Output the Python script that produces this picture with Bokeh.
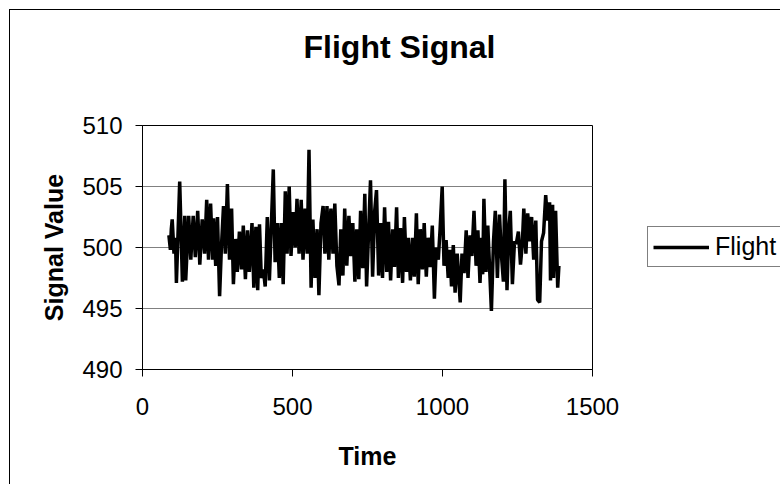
from bokeh.plotting import figure
from bokeh.models import Range1d, FixedTicker, Title, Legend, LegendItem, LinearAxis
from bokeh.embed import file_html
from bokeh.resources import INLINE

times = [88, 93, 96, 99, 105, 110, 113, 116, 124, 133, 141, 144, 154, 161, 169, 176, 184, 191, 199, 207,
         214, 220, 227, 234, 237, 244, 250, 257, 263, 270, 276, 283, 290, 297, 303, 310, 316, 323, 330, 336,
         343, 350, 356, 365, 371, 378, 384, 390, 396, 403, 409, 416, 423, 429, 436, 442, 449, 456, 462, 469,
         476, 482, 489, 495, 502, 509, 515, 522, 529, 535, 542, 549, 555, 562, 568, 575, 582, 588, 595, 602,
         608, 615, 621, 628, 635, 641, 648, 655, 661, 668, 674, 681, 688, 694, 701, 708, 714, 721, 727, 734,
         741, 747, 754, 760, 767, 774, 780, 787, 794, 800, 807, 814, 820, 827, 834, 840, 847, 853, 860, 867,
         873, 880, 886, 893, 900, 906, 913, 919, 926, 933, 939, 946, 952, 959, 966, 973, 979, 986, 992, 999,
         1005, 1012, 1019, 1025, 1030, 1036, 1042, 1049, 1059, 1065, 1072, 1079, 1085, 1092, 1098, 1105, 1112,
         1118, 1125, 1131, 1134, 1138, 1145, 1151, 1163, 1170, 1176, 1183, 1190, 1196, 1203, 1208, 1215, 1221,
         1226, 1233, 1240, 1246, 1253, 1260, 1266, 1271, 1278, 1284, 1291, 1297, 1304, 1311, 1317, 1324, 1330,
         1337, 1344, 1350, 1357, 1360, 1367, 1370, 1377, 1384, 1388]
flight = [501.0, 499.8, 501.5, 502.3, 499.5, 500.8, 497.1, 499.3, 505.4, 497.2, 502.6, 497.3, 502.6, 499.0,
          502.6, 499.2, 503.0, 498.6, 502.3, 499.5, 503.9, 499.0, 503.6, 499.0, 502.4, 498.5, 502.5, 496.0,
          500.0, 503.4, 499.5, 505.2, 499.0, 503.2, 497.0, 500.7, 498.0, 501.3, 498.2, 501.8, 497.4, 501.4,
          498.0, 502.0, 496.7, 501.7, 496.5, 501.9, 497.5, 498.2, 496.8, 502.5, 497.3, 501.5, 506.4, 498.8,
          502.0, 497.5, 502.0, 497.0, 504.6, 499.5, 505.0, 499.3, 502.9, 500.0, 504.0, 499.5, 503.9, 499.0,
          503.2, 499.5, 508.0, 496.7, 502.3, 497.5, 501.5, 496.1, 502.0, 503.4, 499.5, 503.4, 499.0, 503.2,
          499.5, 503.6, 498.5, 496.9, 501.5, 497.7, 503.2, 498.5, 502.6, 499.3, 502.0, 497.2, 501.5, 497.4,
          503.0, 498.3, 504.4, 496.8, 501.5, 505.5, 497.6, 503.0, 504.7, 497.7, 502.0, 497.5, 503.3, 498.0,
          502.1, 497.3, 501.5, 498.4, 503.3, 497.5, 501.6, 497.1, 502.5, 498.0, 500.8, 497.3, 500.8, 497.6,
          502.8, 497.0, 501.5, 498.2, 502.0, 497.6, 500.8, 498.4, 501.8, 495.8, 500.0, 499.0, 501.5, 505.0,
          498.5, 500.6, 497.5, 499.8, 496.8, 500.2, 496.3, 499.5, 495.5, 499.5, 497.9, 501.4, 497.5, 501.0,
          499.3, 503.0, 498.5, 501.4, 497.1, 500.8, 497.8, 504.0, 498.0, 501.8, 494.8, 500.5, 503.0, 497.5,
          502.7, 499.5, 497.2, 505.6, 496.5, 501.5, 503.0, 497.0, 500.5, 500.3, 501.3, 498.6, 500.3, 503.2,
          499.5, 502.8, 500.5, 502.5, 499.0, 502.2, 495.7, 495.5, 500.5, 501.2, 504.3, 502.2, 503.7, 497.3,
          503.5, 497.5, 503.0, 496.7, 498.5]

x_ticks = [0, 500, 1000, 1500]
y_ticks = [490, 495, 500, 505, 510]
title_text = "Flight Signal"
x_label = "Time"
y_label = "Signal Value"
series_name = "Flight"

FONT = "Liberation Sans"

p = figure(title=None, frame_width=450, frame_height=244, output_backend="svg", toolbar_location=None,
           x_range=Range1d(0, 1500), y_range=Range1d(490, 510),
           min_border_left=132, min_border_right=188, min_border_top=115, min_border_bottom=115)
p.margin = (9, 0, 0, 9)
p.styles = {"border-left": "1px solid #000", "border-top": "1px solid #000"}

r = p.line(times, flight, line_color="black", line_width=3.5)

p.outline_line_color = "black"
p.outline_line_width = 1
p.xgrid.grid_line_color = None
p.ygrid.grid_line_color = "#808080"
p.ygrid.grid_line_width = 1

p.xaxis.ticker = FixedTicker(ticks=x_ticks)
p.yaxis.ticker = FixedTicker(ticks=y_ticks)
for ax in (p.xaxis[0], p.yaxis[0]):
    ax.minor_tick_line_color = None
    ax.major_tick_in = 0
    ax.major_tick_out = 7
    ax.axis_line_color = "black"
    ax.major_tick_line_color = "black"
    ax.major_label_text_font = FONT
    ax.major_label_text_font_size = "24px"
    ax.major_label_text_color = "black"
    ax.axis_label_text_font = FONT
    ax.axis_label_text_font_size = "25px"
    ax.axis_label_text_font_style = "bold"
    ax.axis_label_text_color = "black"
p.xaxis.axis_label = x_label
p.yaxis.axis_label = y_label
p.xaxis.major_label_standoff = 21
p.yaxis.major_label_standoff = 13
p.xaxis.axis_label_standoff = 24
p.yaxis.axis_label_standoff = 11

# invisible spacer between the plot frame and the title (an axis with one hidden tick)
spacer = LinearAxis(ticker=FixedTicker(ticks=[750]), major_label_overrides={750: ""},
                    major_label_text_font_size="1px", major_label_standoff=0,
                    axis_line_color=None, major_tick_line_color=None, minor_tick_line_color=None,
                    major_tick_in=0, major_tick_out=56, minor_tick_out=0)
p.add_layout(spacer, "above")

p.add_layout(Title(text=title_text, align="left", offset=161, standoff=10,
                   text_font=FONT, text_font_size="32px", text_font_style="bold", text_color="black"),
             "above")

legend = Legend(items=[LegendItem(label=series_name, renderers=[r])], location=(55, 102),
                label_text_font=FONT, label_text_font_size="25px", label_text_color="black",
                glyph_width=56, glyph_height=20, label_height=20, label_standoff=6,
                padding=5, margin=20, spacing=0,
                border_line_color="black", border_line_width=1, background_fill_color="white")
p.add_layout(legend, "right")

open("out.html", "w").write(file_html(p, INLINE))
